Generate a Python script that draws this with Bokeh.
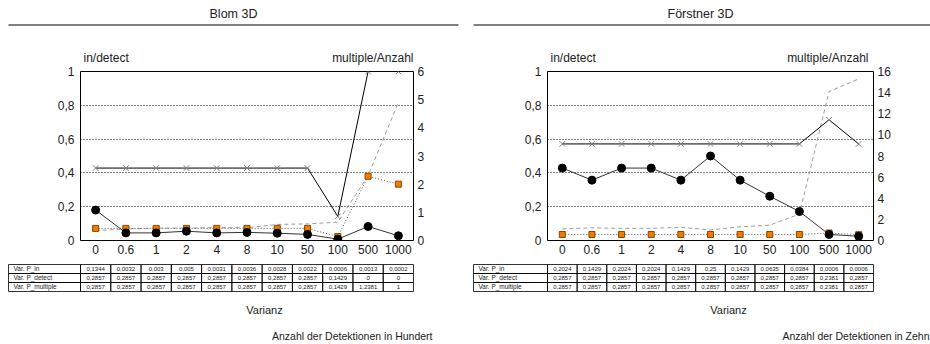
from bokeh.plotting import figure
from bokeh.models import Range1d, FactorRange, LinearAxis, FixedTicker
from bokeh.layouts import row, column
from bokeh.embed import file_html
from bokeh.resources import INLINE
from bokeh.core.properties import value

FONT = "Liberation Sans"

categories = ["0", "0.6", "1", "2", "4", "8", "10", "50", "100", "500", "1000"]

left_ticks = [0, 0.2, 0.4, 0.6, 0.8, 1]
left_tick_labels = ["0", "0,2", "0,4", "0,6", "0,8", "1"]
blom_right_ticks = [0, 1, 2, 3, 4, 5, 6]
foerstner_right_ticks = [0, 2, 4, 6, 8, 10, 12, 14, 16]

row_names = ["Var. P_in", "Var. P_detect", "Var. P_multiple"]

# Blom 3D
blom_cross = [0.4286, 0.4286, 0.4286, 0.4286, 0.4286, 0.4286, 0.4286, 0.4286, 0.1429, 1.0, 1.0]
blom_in = [0.18, 0.045, 0.045, 0.055, 0.045, 0.048, 0.043, 0.036, 0.008, 0.083, 0.028]
blom_square = [0.43, 0.43, 0.43, 0.43, 0.43, 0.43, 0.43, 0.43, 0.14, 2.28, 2.0]
blom_anzahl = [0.35, 0.41, 0.44, 0.44, 0.46, 0.45, 0.57, 0.59, 0.65, 2.3, 4.9]
blom_var_in = ["0,1344", "0,0032", "0,003", "0,005", "0,0031", "0,0036", "0,0028", "0,0022", "0,0006", "0,0013", "0,0002"]
blom_var_detect = ["0,2857", "0,2857", "0,2857", "0,2857", "0,2857", "0,2857", "0,2857", "0,2857", "0,1429", "0", "0"]
blom_var_multiple = ["0,2857", "0,2857", "0,2857", "0,2857", "0,2857", "0,2857", "0,2857", "0,2857", "0,1429", "1,2381", "1"]

# Förstner 3D
f_cross = [0.5714, 0.5714, 0.5714, 0.5714, 0.5714, 0.5714, 0.5714, 0.5714, 0.5714, 0.7143, 0.5714]
f_in = [0.4286, 0.3571, 0.4286, 0.4286, 0.3571, 0.5, 0.3571, 0.2619, 0.1714, 0.0357, 0.025]
f_square = [0.57, 0.57, 0.57, 0.57, 0.57, 0.57, 0.57, 0.57, 0.57, 0.71, 0.55]
f_anzahl = [1.1, 1.2, 1.15, 1.15, 1.25, 1.0, 1.3, 1.45, 2.5, 14.1, 15.3]
f_var_in = ["0,2024", "0,1429", "0,2024", "0,2024", "0,1429", "0,25", "0,1429", "0,0635", "0,0384", "0,0006", "0,0006"]
f_var_detect = ["0,2857", "0,2857", "0,2857", "0,2857", "0,2857", "0,2857", "0,2857", "0,2857", "0,2857", "0,2381", "0,2857"]
f_var_multiple = ["0,2857", "0,2857", "0,2857", "0,2857", "0,2857", "0,2857", "0,2857", "0,2857", "0,2857", "0,2381", "0,2857"]

PANEL_W = 465
HEAD_H = 65
CHART_H = 193
TABLE_H = 86
TXT = "#222222"


def blank(width, height, xr, yr):
    p = figure(width=width, height=height, x_range=xr, y_range=yr,
               x_axis_type=None, y_axis_type=None, toolbar_location=None,
               output_backend="svg", min_border_left=0, min_border_right=0,
               min_border_top=0, min_border_bottom=0, frame_align=False)
    p.grid.visible = False
    p.outline_line_color = None
    return p


def panel(x0, title, title_cx, frame_left, frame_right, right_max, right_ticks,
          cross, p_in, square, anzahl, table_rows, table_left, rtitle_x,
          var_cx, note, note_x, line_x0, line_x1):
    # header: title, rule, axis titles (page coordinates)
    h = blank(PANEL_W, HEAD_H, Range1d(x0, x0 + PANEL_W), Range1d(HEAD_H, 0))
    h.text(x=[title_cx], y=[13], text=[title], text_font=value(FONT),
           text_font_size="12.5px", text_align="center", text_baseline="middle",
           text_color=TXT)
    h.segment(x0=[line_x0], y0=[24.5], x1=[line_x1], y1=[24.5],
              line_color="black", line_width=1)
    h.text(x=[x0 + frame_left + 3], y=[57], text=["in/detect"], text_font=value(FONT),
           text_font_size="12px", text_align="left", text_baseline="middle",
           text_color=TXT)
    h.text(x=[rtitle_x], y=[57], text=["multiple/Anzahl"], text_font=value(FONT),
           text_font_size="12px", text_align="right", text_baseline="middle",
           text_color=TXT)

    # chart
    p = figure(width=PANEL_W, height=CHART_H, x_range=FactorRange(*categories),
               y_range=Range1d(0, 1), toolbar_location=None, output_backend="svg",
               min_border_left=frame_left, min_border_right=frame_right,
               min_border_top=6, min_border_bottom=18, frame_align=False)
    p.extra_y_ranges = {"r": Range1d(0, right_max)}
    rax = LinearAxis(y_range_name="r", ticker=FixedTicker(ticks=right_ticks))
    p.add_layout(rax, "right")
    p.yaxis[0].ticker = FixedTicker(ticks=left_ticks)
    p.yaxis[0].major_label_overrides = dict(zip(left_ticks, left_tick_labels))
    p.yaxis[0].major_label_standoff = 6
    rax.major_label_standoff = 4
    p.xaxis.major_label_standoff = 4
    for ax in p.xaxis + p.yaxis:
        ax.axis_line_color = None
        ax.major_tick_line_color = None
        ax.minor_tick_line_color = None
        ax.major_tick_out = 0
        ax.major_tick_in = 0
        ax.major_label_text_font = FONT
        ax.major_label_text_font_size = "12px"
        ax.major_label_text_color = TXT
    p.outline_line_color = "black"
    p.outline_line_width = 1
    p.outline_line_alpha = 1
    p.xgrid.grid_line_color = None
    p.ygrid.ticker = FixedTicker(ticks=[0.2, 0.4, 0.6, 0.8])
    p.ygrid.grid_line_color = "black"
    p.ygrid.grid_line_dash = "1 2"
    p.ygrid.grid_line_width = 1

    p.line(categories, anzahl, y_range_name="r", line_color="#9c9c9c",
           line_dash="4 3", line_width=1)
    p.line(categories, square, y_range_name="r", line_color="#555555",
           line_dash="1 2", line_width=1)
    p.scatter(categories, square, y_range_name="r", marker="square", size=6,
              fill_color="#f07d00", line_color="#8a4500", line_width=1)
    p.line(categories, p_in, line_color="#333333", line_width=1)
    p.scatter(categories, p_in, marker="circle", size=8, fill_color="black",
              line_color="black")
    p.line(categories, cross, line_color="black", line_width=1)
    p.scatter(categories, cross, marker="x", size=8, line_color="#808080",
              line_width=1)

    # table + footer
    frame_w = PANEL_W - frame_left - frame_right
    k = len(categories) / frame_w
    t = blank(PANEL_W, TABLE_H,
              Range1d(-frame_left * k, len(categories) + frame_right * k),
              Range1d(344, 258))
    lab_left = (table_left - x0 - frame_left) * k
    row_tops = [264.0, 273.0, 282.0]
    rh = 9.0
    xs = list(range(len(categories)))
    for top in row_tops:
        t.quad(left=[lab_left], right=[0], top=[top], bottom=[top + rh],
               fill_color=None, line_color="black", line_width=0.8)
        t.quad(left=xs, right=[i + 1 for i in xs], top=[top] * len(xs),
               bottom=[top + rh] * len(xs), fill_color=None, line_color="black",
               line_width=0.8)
    for top, name, vals in zip(row_tops, row_names, table_rows):
        yc = top + rh / 2 - 0.5
        t.text(x=[lab_left + 5 * k], y=[yc], text=[name],
               text_font=value(FONT), text_font_size="6.5px", text_align="left",
               text_baseline="middle", text_color=TXT)
        t.text(x=[i + 0.5 for i in xs], y=[yc] * len(xs), text=vals,
               text_font=value(FONT), text_font_size="6px", text_align="center",
               text_baseline="middle", text_color=TXT)
    t.text(x=[(var_cx - x0 - frame_left) * k], y=[309], text=["Varianz"],
           text_font=value(FONT), text_font_size="11px", text_align="center",
           text_baseline="middle", text_color=TXT)
    t.text(x=[(note_x - x0 - frame_left) * k], y=[335], text=[note],
           text_font=value(FONT), text_font_size="10.5px", text_align="right",
           text_baseline="middle", text_color=TXT)
    return column(h, p, t, spacing=0)


left = panel(0, "Blom 3D", 233, 80, 52, 6, blom_right_ticks,
             blom_cross, blom_in, blom_square, blom_anzahl,
             [blom_var_in, blom_var_detect, blom_var_multiple], 8, 413,
             264, "Anzahl der Detektionen in Hundert", 432, 8, 458)
right = panel(465, "Förstner 3D", 700, 82, 57, 16, foerstner_right_ticks,
              f_cross, f_in, f_square, f_anzahl,
              [f_var_in, f_var_detect, f_var_multiple], 473, 868,
              728, "Anzahl der Detektionen in Zehn", 929, 473, 930)

layout = row(left, right, spacing=0)
open("out.html", "w").write(file_html(layout, INLINE))
